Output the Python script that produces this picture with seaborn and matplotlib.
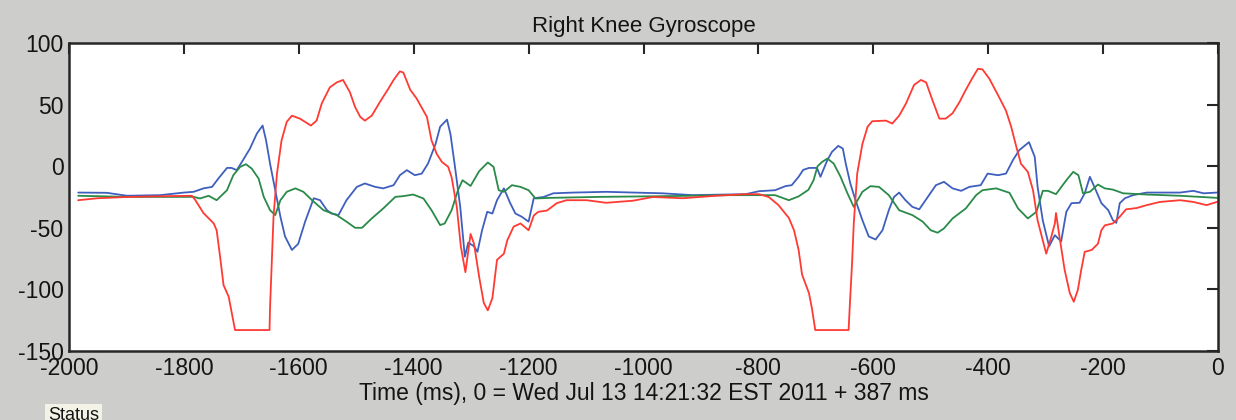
import numpy as np
import pandas as pd
import matplotlib
matplotlib.use("Agg")
import matplotlib.pyplot as plt
import seaborn as sns

title = "Right Knee Gyroscope"
xlabel = "Time (ms), 0 = Wed Jul 13 14:21:32 EST 2011 + 387 ms"
x_ticks = [-2000, -1800, -1600, -1400, -1200, -1000, -800, -600, -400, -200, 0]
y_ticks = [-150, -100, -50, 0, 50, 100]

red_t = [-1984, -1950, -1900, -1850, -1786, -1780, -1766, -1748, -1743, -1737, -1731, -1722, -1711, -1651,
         -1650, -1644, -1638, -1630, -1621, -1612, -1598, -1579, -1569, -1560, -1546, -1534, -1523, -1511,
         -1502, -1493, -1485, -1473, -1459, -1444, -1435, -1424, -1418, -1406, -1395, -1383, -1377, -1369,
         -1360, -1351, -1340, -1334, -1325, -1318, -1310, -1301, -1295, -1286, -1278, -1271, -1263, -1255,
         -1243, -1237, -1226, -1214, -1200, -1191, -1183, -1168, -1151, -1134, -1099, -1065, -1018, -984,
         -932, -874, -822, -799, -782, -765, -747, -738, -730, -724, -712, -707, -701, -643, -641, -637,
         -634, -628, -619, -610, -602, -578, -567, -555, -543, -529, -517, -508, -497, -485, -474, -462,
         -450, -439, -427, -418, -410, -398, -381, -369, -360, -351, -343, -331, -322, -314, -305, -299,
         -290, -284, -282, -276, -267, -258, -251, -244, -238, -232, -220, -209, -203, -197, -183, -171,
         -160, -142, -124, -101, -66, -43, -20, -2]
red_v = [-27.6, -26, -25, -24.5, -24, -27.6, -38, -46.5, -52, -73.5, -96.5, -106, -133, -133,
         -114, -41, -6, 21, 36, 41, 38.6, 33, 37, 51, 64, 68, 70, 60,
         48, 40, 37, 41, 52, 63, 70, 77, 76, 62, 55, 45, 40, 21,
         10, 3.5, -0.5, -9, -33, -65, -86, -55, -63, -90, -111, -117, -107, -76,
         -71, -60, -49, -46.5, -52, -40, -37, -36, -30, -27.6, -27.6, -29.7, -28, -25,
         -26, -24, -22.7, -22.7, -25, -31.6, -42, -52, -68, -88, -103, -115, -133, -133, -114, -79,
         -46.5, -6, 18, 32, 36.5, 37, 34.6, 41, 51, 66, 70, 68, 53.5, 38.6, 38.6, 43,
         52, 62, 72, 79, 78.6, 71, 56, 45, 32, 15.7, 2, -4.6, -19.5, -44, -60, -71,
         -57, -46.5, -38, -57, -84, -103, -110, -100.5, -84, -69.5, -68, -63, -52, -48, -46.5, -41,
         -35, -34, -31.6, -29, -27.6, -29, -31.6, -29]

blue_t = [-1984, -1934, -1899, -1841, -1800, -1783, -1766, -1751, -1740, -1725, -1717, -1708, -1699, -1685,
          -1673, -1663, -1657, -1650, -1641, -1632, -1624, -1612, -1601, -1589, -1574, -1563, -1551, -1543,
          -1531, -1517, -1499, -1485, -1467, -1453, -1435, -1424, -1412, -1398, -1386, -1375, -1362, -1354,
          -1342, -1336, -1328, -1319, -1311, -1305, -1295, -1289, -1281, -1272, -1263, -1255, -1243, -1232,
          -1223, -1212, -1200, -1191, -1174, -1157, -1122, -1065, -967, -915, -822, -799, -771, -753, -742,
          -730, -722, -712, -698, -692, -680, -672, -661, -653, -648, -640, -631, -619, -608, -596, -584,
          -573, -564, -555, -544, -532, -520, -509, -491, -477, -462, -447, -433, -413, -401, -383, -369,
          -357, -346, -329, -319, -314, -305, -294, -284, -273, -264, -255, -241, -232, -223, -214, -203,
          -191, -183, -177, -171, -162, -148, -124, -66, -43, -25, -2]
blue_v = [-21.4, -21.6, -24, -23.5, -21.4, -20.8, -18, -16.8, -10, -1.4, -1.4, -3.2, 3.5, 14.3,
          26.5, 33, 21, 2, -19.5, -41, -57, -68, -63, -45, -26, -27.6, -35.7, -38.4,
          -39.7, -27.6, -16.8, -14, -16.8, -18, -15.4, -7.3, -3.2, -7.3, -6, 2.2, 18, 32,
          37.8, 26, -1, -33, -73.5, -62, -65, -69.5, -52, -37, -38.4, -27.6, -18, -30,
          -38.4, -41, -45, -26, -25, -22, -21.4, -20.8, -22, -23.5, -22.7, -20.3, -19.5, -16.2, -15.4,
          -8.6, -3, -1.4, -1.4, -8.6, 4.9, 11.6, 16.5, 14.3, 2.2, -14, -27.6, -43.8, -57, -59.5, -52,
          -35.7, -25, -21.4, -27.6, -33, -35, -27.6, -15.4, -12.7, -18, -20, -16.8, -15.4, -6, -7.3, -6,
          4.9, 13, 19.5, 7.6, -16.8, -44, -65, -56, -61, -37, -30, -29.7, -22, -8.6, -18, -30,
          -35.7, -43.8, -46, -30, -26, -23.5, -21.4, -21.4, -20, -22, -21.4]

green_t = [-1984, -1899, -1841, -1783, -1772, -1757, -1743, -1725, -1714, -1702, -1692, -1682, -1670, -1661,
           -1650, -1641, -1632, -1621, -1606, -1592, -1577, -1557, -1534, -1517, -1502, -1490, -1473, -1453,
           -1432, -1418, -1401, -1383, -1369, -1354, -1346, -1334, -1323, -1315, -1301, -1286, -1271, -1261,
           -1252, -1243, -1229, -1214, -1200, -1188, -1163, -1076, -961, -846, -771, -747, -730, -713, -704,
           -697, -689, -680, -669, -657, -645, -634, -619, -605, -590, -573, -555, -532, -514, -500, -488,
           -477, -462, -439, -421, -410, -386, -363, -348, -331, -316, -305, -296, -282, -264, -252, -243,
           -235, -223, -209, -197, -183, -165, -124, -66, -2]
green_v = [-24, -24.9, -24.9, -24.9, -26.2, -24, -27.6, -19.5, -7.3, -0.5, 1.6, -1.9, -10, -24.9,
           -35.7, -39.7, -27.6, -20.8, -18, -20.8, -27.6, -35.7, -39.7, -45, -50, -50, -42.4, -34.3,
           -24.9, -24.3, -23, -26.2, -35.7, -47.8, -46.5, -35.7, -19.5, -11.4, -16, -4, 3, -0.5,
           -19.5, -20.8, -15.4, -16.8, -19.5, -26.2, -25.7, -24.9, -24.3, -23.5, -23.5, -27.6, -24.5, -19.2, -11.4,
           0, 3.5, 6.2, 2.2, -8.6, -22, -33, -20.8, -16.2, -16.8, -23.5, -35.7, -39.7, -45, -52, -54,
           -50.5, -42.4, -34.3, -23.5, -19.5, -18, -21.6, -34.3, -42.4, -37, -20, -20, -22.7, -11.4, -4.6, -7.3,
           -22, -20.8, -14.9, -18, -19, -22, -23, -24, -25.7]

df = pd.concat([
    pd.DataFrame({"t": blue_t, "v": blue_v, "axis": "x"}),
    pd.DataFrame({"t": green_t, "v": green_v, "axis": "y"}),
    pd.DataFrame({"t": red_t, "v": red_v, "axis": "z"}),
], ignore_index=True)

sns.set_style("white")
plt.rcParams["font.family"] = ["Liberation Sans", "DejaVu Sans"]
plt.rcParams["axes.unicode_minus"] = False

BG = "#cdcdcb"
fig = plt.figure(figsize=(12.36, 4.2), dpi=100, facecolor=BG)
ax = fig.add_axes([69 / 1236, 1 - 351 / 420, (1218 - 69) / 1236, (351 - 43) / 420])
ax.set_facecolor("white")

sns.lineplot(data=df, x="t", y="v", hue="axis", sort=False, estimator=None,
             palette={"x": "#3f5fbf", "y": "#2a8a48", "z": "#ff3a33"},
             linewidth=1.3, legend=False, ax=ax)

ax.set_xlim(-2000, 0)
ax.set_ylim(-150, 100)
ax.set_xticks(x_ticks)
ax.set_yticks(y_ticks)
ax.tick_params(direction="in", length=8, width=1.5, color="#262626", labelsize=16.5,
               labelcolor="#141414", top=True, right=True, pad=4)
for s in ax.spines.values():
    s.set_visible(True)
    s.set_color("#262626")
    s.set_linewidth(1.8)
ax.set_title(title, fontsize=16, color="#141414", pad=8)
ax.set_xlabel(xlabel, fontsize=16.5, color="#141414", labelpad=2)
ax.set_ylabel("")

fig.text(48 / 1236, 1 - 407 / 420, "Status", fontsize=13, color="#141414", va="top", ha="left",
         bbox=dict(boxstyle="square,pad=0.15", facecolor="#f2f2e6", edgecolor="none"))

fig.savefig("out.png", dpi=100, facecolor=BG)
